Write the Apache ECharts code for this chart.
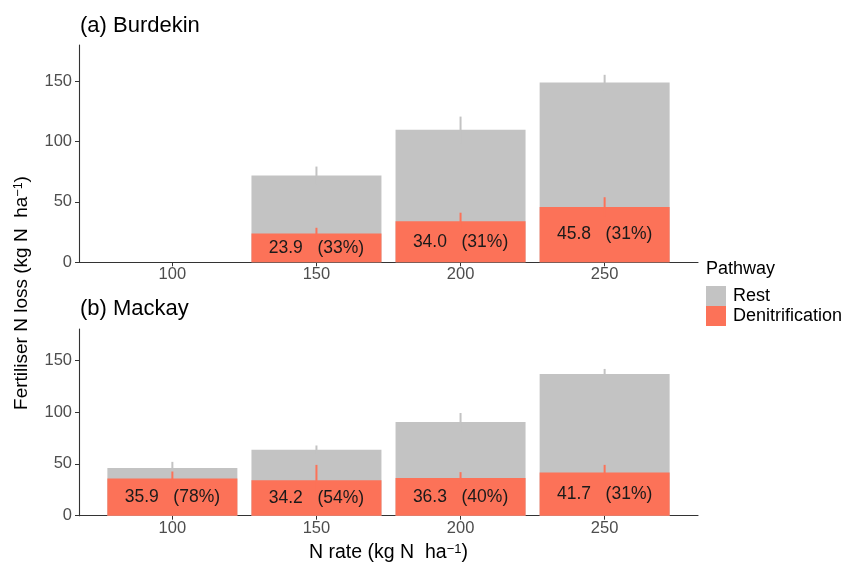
<!DOCTYPE html>
<html>
<head>
<meta charset="utf-8">
<script src="https://cdn.jsdelivr.net/npm/echarts@6/dist/echarts.min.js"></script>
<style>
  html, body { margin: 0; padding: 0; background: #ffffff; }
  #chart { width: 851px; height: 564px; }
</style>
</head>
<body>
<div id="chart"></div>
<script>
// N application rates (kg N ha-1) shown on both panels
const nRates = [100, 150, 200, 250];
const yTicks = [0, 50, 100, 150];

// (a) Burdekin: no 100 kg N treatment
const burdekinRates = [150, 200, 250];
const burdekinDenit = [23.9, 34.0, 45.8];
const burdekinRest = [47.9, 75.7, 103.1];
const burdekinDenitErr = [4.7, 7.1, 8.1];
const burdekinTotalErr = [7.5, 11.0, 6.4];

// (b) Mackay
const mackayRates = [100, 150, 200, 250];
const mackayDenit = [35.9, 34.2, 36.3, 41.7];
const mackayRest = [10.2, 29.3, 54.0, 94.8];
const mackayDenitErr = [6.7, 14.8, 5.7, 7.3];
const mackayTotalErr = [5.8, 4.2, 8.7, 5.0];

const FONT = 'Liberation Sans, Arial, Helvetica, sans-serif';
const GREY = '#C3C3C3';
const RED = '#FC7258';
const AXIS = '#333333';
const TICKTEXT = '#4D4D4D';

function errorBar(color) {
  return function (params, api) {
    const x = api.value(0), y = api.value(1), e = api.value(2);
    const lo = api.coord([x, y - e]);
    const hi = api.coord([x, y + e]);
    return {
      type: 'line',
      shape: { x1: lo[0], y1: lo[1], x2: hi[0], y2: hi[1] },
      style: { stroke: color, lineWidth: 2 }
    };
  };
}

// Stacked bars: the Rest segment sits on top of denitrification, so the grey
// bar runs from 0 to the total and the denitrification bar is drawn over it.
function panelSeries(idx, rates, denit, rest, denitErr, totalErr) {
  const totals = denit.map((d, k) => d + rest[k]);
  return [
    {
      type: 'bar', name: 'Rest', xAxisIndex: idx, yAxisIndex: idx,
      barWidth: 130, barGap: '-100%', silent: true, z: 2,
      itemStyle: { color: GREY },
      data: rates.map((r, k) => [r, totals[k]])
    },
    {
      type: 'bar', name: 'Denitrification', xAxisIndex: idx, yAxisIndex: idx,
      barWidth: 130, barGap: '-100%', silent: true, z: 3,
      itemStyle: { color: RED },
      data: rates.map((r, k) => [r, denit[k]]),
      label: {
        show: true, position: 'inside', fontFamily: FONT, fontSize: 17.5, color: '#1A1A1A',
        formatter: p => denit[p.dataIndex].toFixed(1) + '   (' +
          Math.round(denit[p.dataIndex] / totals[p.dataIndex] * 100) + '%)'
      }
    },
    {
      type: 'custom', name: 'Rest error', xAxisIndex: idx, yAxisIndex: idx, z: 5, silent: true,
      renderItem: errorBar(GREY), encode: { x: 0, y: 1 },
      data: rates.map((r, k) => [r, totals[k], totalErr[k]])
    },
    {
      type: 'custom', name: 'Denitrification error', xAxisIndex: idx, yAxisIndex: idx, z: 5, silent: true,
      renderItem: errorBar(RED), encode: { x: 0, y: 1 },
      data: rates.map((r, k) => [r, denit[k], denitErr[k]])
    }
  ];
}

function xAxis(idx, withName) {
  const ax = {
    type: 'value', gridIndex: idx, min: 67.6, max: 282.4,
    splitLine: { show: false },
    axisLine: { show: true, lineStyle: { color: AXIS, width: 1.1 } },
    axisTick: { show: true, length: 4, customValues: nRates, lineStyle: { color: AXIS } },
    axisLabel: { customValues: nRates, color: TICKTEXT, fontFamily: FONT, fontSize: 16.5, margin: 4 }
  };
  if (withName) {
    ax.name = 'N rate (kg N  ha{sup|\u22121})';
    ax.nameLocation = 'middle';
    ax.nameGap = 27;
    ax.nameTextStyle = {
      fontFamily: FONT, fontSize: 19.5, color: '#000',
      rich: { sup: { fontFamily: FONT, fontSize: 13, color: '#000', verticalAlign: 'top', lineHeight: 11 } }
    };
  }
  return ax;
}

function yAxis(idx) {
  return {
    type: 'value', gridIndex: idx, min: 0, max: 180,
    splitLine: { show: false },
    axisLine: { show: true, lineStyle: { color: AXIS, width: 1.1 } },
    axisTick: { show: true, length: 4, customValues: yTicks, lineStyle: { color: AXIS } },
    axisLabel: { customValues: yTicks, color: TICKTEXT, fontFamily: FONT, fontSize: 16.5, margin: 7 }
  };
}

const chart = echarts.init(document.getElementById('chart'), null, { renderer: 'canvas' });

chart.setOption({
  animation: false,
  backgroundColor: '#ffffff',
  title: [
    { text: '(a) Burdekin', left: 80, top: 15, padding: 0,
      textStyle: { fontFamily: FONT, fontSize: 22, fontWeight: 'normal', color: '#000' } },
    { text: '(b) Mackay', left: 80, top: 298, padding: 0,
      textStyle: { fontFamily: FONT, fontSize: 22, fontWeight: 'normal', color: '#000' } },
    { text: 'Pathway', left: 706, top: 260, padding: 0,
      textStyle: { fontFamily: FONT, fontSize: 18, fontWeight: 'normal', color: '#000' } }
  ],
  legend: {
    data: ['Rest', 'Denitrification'],
    orient: 'vertical', left: 706, top: 286, padding: 0,
    itemWidth: 20, itemHeight: 20, itemGap: 0, icon: 'rect',
    selectedMode: false,
    textStyle: { fontFamily: FONT, fontSize: 18, color: '#000', padding: [0, 0, 0, 2] }
  },
  grid: [
    { left: 79, right: 153, top: 45, height: 217.3 },
    { left: 79, right: 153, top: 329, height: 186.7 }
  ],
  xAxis: [xAxis(0, false), xAxis(1, true)],
  yAxis: [yAxis(0), yAxis(1)],
  graphic: [{
    type: 'text', x: 22, y: 293, rotation: Math.PI / 2, silent: true,
    style: {
      text: 'Fertiliser N loss (kg N  ha{sup|\u22121})',
      fontFamily: FONT, fontSize: 19, fill: '#000',
      align: 'center', verticalAlign: 'middle',
      rich: { sup: { fontFamily: FONT, fontSize: 12.5, fill: '#000', verticalAlign: 'top', lineHeight: 11 } }
    }
  }],
  series: [].concat(
    panelSeries(0, burdekinRates, burdekinDenit, burdekinRest, burdekinDenitErr, burdekinTotalErr),
    panelSeries(1, mackayRates, mackayDenit, mackayRest, mackayDenitErr, mackayTotalErr)
  )
});
</script>
</body>
</html>
